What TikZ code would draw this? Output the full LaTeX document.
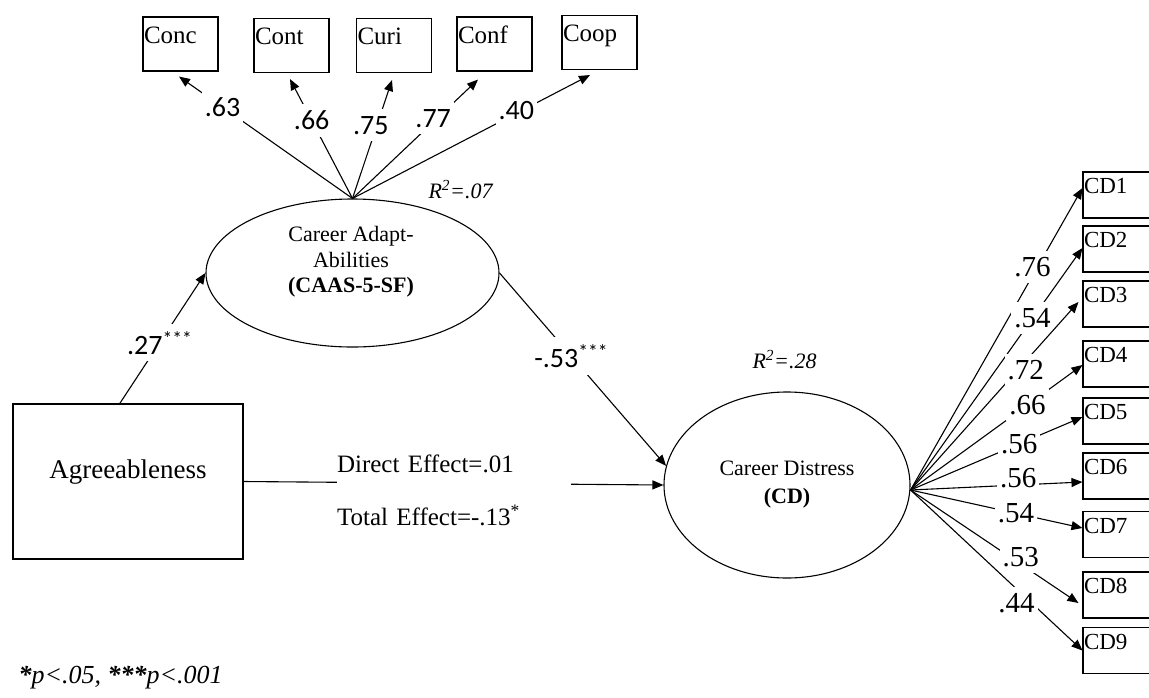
\documentclass[tikz,border=0pt]{standalone}
\usepackage{fontspec}
\setmainfont{Liberation Serif}
\newfontfamily\numfont{Carlito}
\usetikzlibrary{arrows.meta,shapes.geometric,calc}

\begin{document}
\begin{tikzpicture}[x=1pt,y=-1pt,
  line width=1.1pt,
  arr/.style={-{Triangle[length=11pt,width=9pt]}},
  % indicator boxes of the adaptability factor (text in the upper left)
  topbox/.style={draw, rectangle, inner xsep=1pt, inner ysep=0pt,
    text width=73pt, align=left, text height=26pt, text depth=28pt,
    font=\fontsize{25}{25}\selectfont},
  % indicator boxes of career distress
  cdbox/.style={draw, rectangle, inner xsep=1pt, inner ysep=0pt,
    text width=74pt, align=left, text height=21.5pt, text depth=24.5pt,
    font=\fontsize{23}{23}\selectfont},
  latent/.style={draw, ellipse, inner sep=0pt},
  plab/.style={fill=white, inner xsep=3pt, inner ysep=7pt,
    font={\numfont\fontsize{28}{28}\selectfont}},
  clab/.style={fill=white, inner xsep=3pt, inner ysep=6pt,
    font=\fontsize{29}{29}\selectfont},
  rsq/.style={anchor=base west, inner sep=0pt,
    font=\fontsize{22}{22}\selectfont\itshape}
]
\useasboundingbox (0,0) rectangle (1149,697);

% observed predictor
\node[draw, rectangle, minimum width=230pt, minimum height=155pt,
  text height=18.4pt, text depth=25.4pt,
  font=\fontsize{27}{27}\selectfont] (agree) at (128,481.5) {Agreeableness};

% latent factors
\node[latent, minimum width=293pt, minimum height=148pt] (caas) at (352.5,273) {};
\node[align=center, inner sep=0pt, font=\fontsize{22}{25.5}\selectfont]
  (caastext) at (351,262) {Career Adapt-\\Abilities\\\textbf{(CAAS-5-SF)}};
\node[latent, minimum width=246pt, minimum height=186pt, align=center,
  font=\fontsize{22}{28}\selectfont] (cd) at (787,485) {Career Distress\\\textbf{(CD)}};

\node[rsq] (r2caas) at (428,198) {R\textsuperscript{2}=.07};
\node[rsq] (r2cd) at (752,368) {R\textsuperscript{2}=.28};

% adaptability indicators
\node[topbox] (conc) at (180.5,44) {Conc};
\node[topbox] (cont) at (291.5,45.5) {Cont};
\node[topbox] (curi) at (394,45.5) {Curi};
\node[topbox] (conf) at (494.5,44) {Conf};
\node[topbox] (coop) at (599.5,42.5) {Coop};

\draw[arr] (caas.north) -- node[plab, pos=0.749] {.63} ($(conc.south)+(-1.5,5)$);
\draw[arr] (caas.north) -- node[plab, pos=0.653] {.66} ($(cont.south)+(-1.5,6)$);
\draw[arr] (caas.north) -- node[plab, pos=0.617, xshift=-6pt] {.75} ($(curi.south)+(-2,7)$);
\draw[arr] (caas.north) -- node[plab, pos=0.675, xshift=-4pt] {.77} ($(conf.south)+(-16.5,8)$);
\draw[arr] (caas.north) -- node[plab, pos=0.69, yshift=3pt] {.40} ($(coop.south)+(-9.5,5)$);

% distress indicators
\node[cdbox] (cd1) at (1121,195) {CD1};
\node[cdbox] (cd2) at (1121,249) {CD2};
\node[cdbox] (cd3) at (1121,304) {CD3};
\node[cdbox] (cd4) at (1121,364) {CD4};
\node[cdbox] (cd5) at (1121,421) {CD5};
\node[cdbox] (cd6) at (1121,476) {CD6};
\node[cdbox] (cd7) at (1121,534.5) {CD7};
\node[cdbox] (cd8) at (1121,595) {CD8};
\node[cdbox] (cd9) at (1121,650.5) {CD9};

\coordinate (fan) at ($(cd.east)+(0,5)$);
\draw[arr] (fan) -- node[clab, pos=0.738, xshift=-5pt] {.76} ($(cd1.west)+(0,-7)$);
\draw[arr] (fan) -- node[clab, pos=0.71] {.54} ($(cd2.west)+(0,-1)$);
\draw[arr] (fan) -- node[clab, pos=0.638, xshift=8pt] {.72} ($(cd3.west)+(-4,-2)$);
\draw[arr] (fan) -- node[clab, pos=0.68] {.66} ($(cd4.west)+(0,1)$);
\draw[arr] (fan) -- node[clab, pos=0.632] {.56} ($(cd5.west)+(0,-4)$);
\draw[arr] (fan) -- node[clab, pos=0.626, yshift=7pt] {.56} ($(cd6.west)+(0,6)$);
\draw[arr] (fan) -- node[clab, pos=0.613] {.54} ($(cd7.west)+(0,-6.5)$);
\draw[arr] (fan) -- node[clab, pos=0.62, xshift=6pt, yshift=3pt] {.53} ($(cd8.west)+(-4,8)$);
\draw[arr] (fan) -- node[clab, pos=0.68, xshift=-11pt, yshift=-4pt] {.44} ($(cd9.west)+(0,0)$);

% structural paths
\draw[arr] (agree.96) -- node[plab, pos=0.466] {.27\textsuperscript{***}} (caas.west);
\draw[arr] (caas.east) -- node[plab, pos=0.43] {-.53\textsuperscript{***}} (cd.171);
\draw[arr] (agree.east) -- (cd.west);
\node[fill=white, inner sep=0pt, text width=234pt, align=left,
  font=\fontsize{25}{53}\selectfont] (eff) at (454,490)
  {Direct Effect=.01\\Total Effect=-.13\textsuperscript{*}};

% significance note
\node[anchor=base west, inner sep=0pt, font=\fontsize{26}{26}\selectfont\itshape]
  (note) at (18,683) {\textbf{*}p<.05, \textbf{***}p<.001};
\end{tikzpicture}
\end{document}
